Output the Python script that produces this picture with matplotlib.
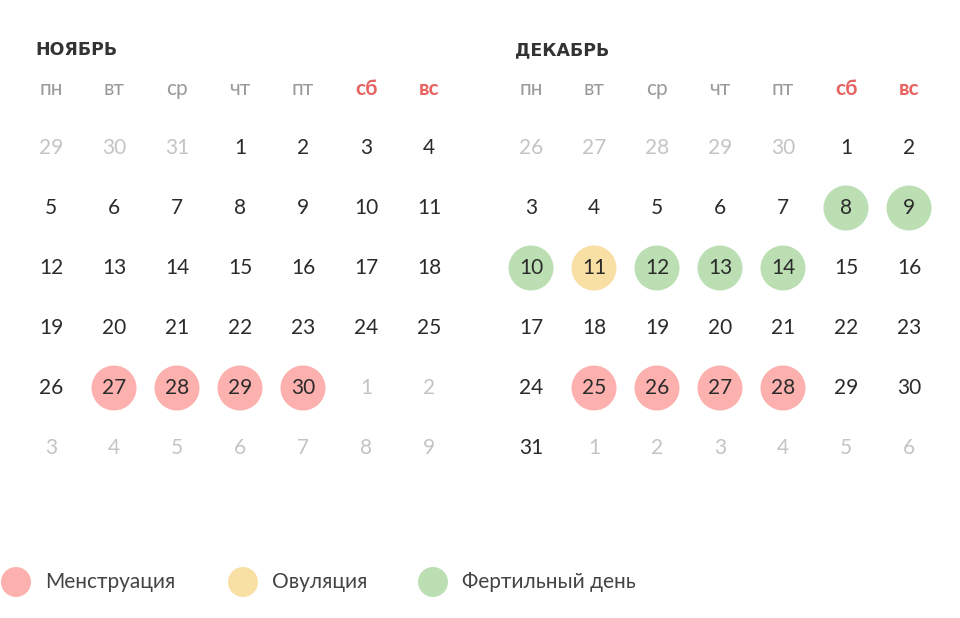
import matplotlib.pyplot as plt
from matplotlib.patches import Circle

months = ['НОЯБРЬ', 'ДЕКАБРЬ']
weekdays = ['пн', 'вт', 'ср', 'чт', 'пт', 'сб', 'вс']
# first shown day (from previous month), days in previous month, days in month
grid_start = [29, 26]
prev_len = [31, 30]
month_len = [30, 31]
menstruation = [[27, 28, 29, 30], [25, 26, 27, 28]]
ovulation = [[], [11]]
fertile = [[], [8, 9, 10, 12, 13, 14]]
legend_labels = ['Менструация', 'Овуляция', 'Фертильный день']

C_MENS = '#fdb1ae'
C_OVU = '#f8e0a4'
C_FERT = '#bbdfb3'
C_WEEKEND = '#e8625f'
C_DAY = '#2b2b2b'
C_OTHER = '#c4c4c4'
C_HEAD = '#9a9a9a'

plt.rcParams['font.family'] = ['Lato', 'DejaVu Sans']
fig = plt.figure(figsize=(9.6, 6.18), dpi=100)
ax = fig.add_axes([0, 0, 1, 1])
ax.set_xlim(0, 960)
ax.set_ylim(618, 0)
ax.axis('off')

x0 = [51, 531]
step_x, step_y = 63, 60
for m in range(2):
    ax.text(x0[m] - 16, 50, months[m], fontsize=12.5, fontweight='heavy',
            color='#333333', va='center', ha='left', family='DejaVu Sans')
    for i, wd in enumerate(weekdays):
        ax.text(x0[m] + i * step_x, 89, wd, fontsize=15, ha='center', va='center',
                color=C_WEEKEND if i >= 5 else C_HEAD,
                fontweight='bold' if i >= 5 else 'normal')
    # build the 6x7 grid of days
    days = []
    d, phase = grid_start[m], 0
    for _ in range(42):
        days.append((d, phase))
        d += 1
        if phase == 0 and d > prev_len[m]:
            d, phase = 1, 1
        elif phase == 1 and d > month_len[m]:
            d, phase = 1, 2
    for k, (day, phase) in enumerate(days):
        x = x0[m] + (k % 7) * step_x
        y = 148 + (k // 7) * step_y
        color = C_DAY if phase == 1 else C_OTHER
        if phase == 1:
            fill = None
            if day in menstruation[m]:
                fill = C_MENS
            elif day in ovulation[m]:
                fill = C_OVU
            elif day in fertile[m]:
                fill = C_FERT
            if fill:
                ax.add_patch(Circle((x, y), 22.5, color=fill, lw=0))
        ax.text(x, y, str(day), fontsize=15, ha='center', va='center', color=color)

for (cx, label, col) in zip([16, 243, 433], legend_labels, [C_MENS, C_OVU, C_FERT]):
    ax.add_patch(Circle((cx, 582), 15, color=col, lw=0))
    ax.text(cx + 29, 582, label, fontsize=15, ha='left', va='center', color='#444444')

fig.savefig('out.png', dpi=100)
